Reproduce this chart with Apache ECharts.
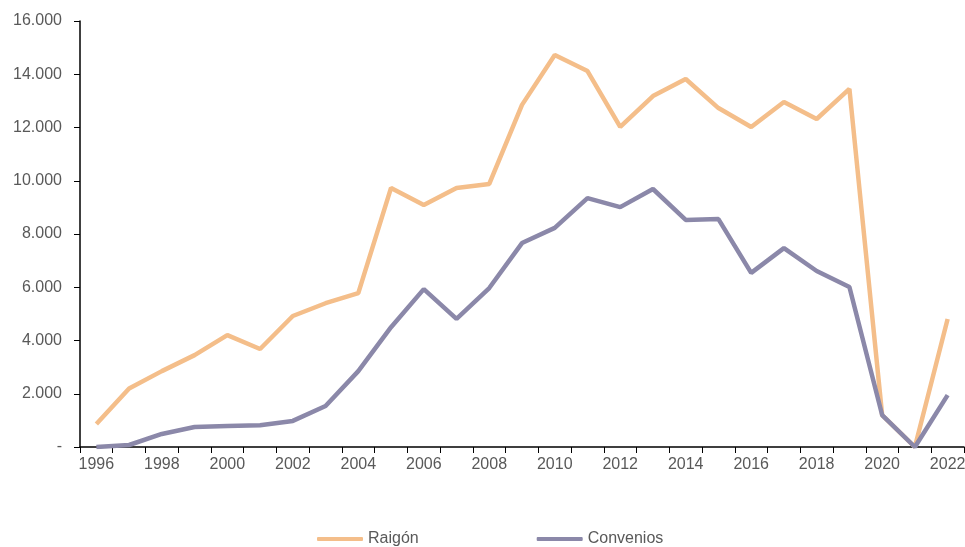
<!DOCTYPE html>
<html>
<head>
<meta charset="utf-8">
<script src="https://cdn.jsdelivr.net/npm/echarts@6/dist/echarts.min.js"></script>
<style>
  html, body { margin: 0; padding: 0; background: #fff; }
  #chart { width: 965px; height: 547px; }
</style>
</head>
<body>
<div id="chart"></div>
<script>
var years = ['1996', '1997', '1998', '1999', '2000', '2001', '2002', '2003', '2004', '2005',
  '2006', '2007', '2008', '2009', '2010', '2011', '2012', '2013', '2014', '2015',
  '2016', '2017', '2018', '2019', '2020', '2021', '2022'];

var raigon = [860, 2200, 2850, 3450, 4200, 3680, 4920, 5400, 5780, 9730,
  9090, 9730, 9880, 12850, 14720, 14120, 12020, 13180, 13820, 12730,
  12020, 12960, 12320, 13450, 1200, 0, 4810];

var convenios = [0, 75, 490, 750, 790, 820, 980, 1540, 2850, 4500,
  5930, 4810, 5970, 7660, 8230, 9350, 9010, 9690, 8530, 8560,
  6540, 7470, 6610, 6010, 1200, 0, 1950];

var myChart = echarts.init(document.getElementById('chart'));

var labelStyle = { color: '#595959', fontFamily: 'Liberation Sans, Arial', fontSize: 16 };

option = {
    animation: false,
    grid: { left: 80, right: 1, top: 21, bottom: 100, outerBoundsMode: 'none' },
    legend: {
        bottom: 0,
        left: 317,
        padding: 0,
        itemWidth: 46,
        itemHeight: 4,
        itemGap: 118,
        icon: 'roundRect',
        textStyle: labelStyle,
        data: ['Raigón', 'Convenios']
    },
    xAxis: {
        type: 'category',
        data: years,
        boundaryGap: true,
        axisLine: { lineStyle: { color: '#000', width: 1.5 } },
        axisTick: { show: true, interval: 0, length: 6, lineStyle: { color: '#000' } },
        axisLabel: Object.assign({ interval: 1, margin: 10 }, labelStyle)
    },
    yAxis: {
        type: 'value',
        min: 0,
        max: 16000,
        interval: 2000,
        splitLine: { show: false },
        axisLine: { show: true, lineStyle: { color: '#000', width: 1.5 } },
        axisTick: { show: true, length: 6, lineStyle: { color: '#000' } },
        axisLabel: Object.assign({
            margin: 18,
            formatter: function (v) {
                return v === 0 ? '-' : v.toLocaleString('de-DE');
            }
        }, labelStyle)
    },
    series: [{
        name: 'Raigón',
        type: 'line',
        data: raigon,
        symbol: 'none',
        lineStyle: { color: '#F4BE8A', width: 4.5 },
        itemStyle: { color: '#F4BE8A' }
    }, {
        name: 'Convenios',
        type: 'line',
        data: convenios,
        symbol: 'none',
        lineStyle: { color: '#8B88A9', width: 4.5 },
        itemStyle: { color: '#8B88A9' }
    }]
};
myChart.setOption(option);
</script>
</body>
</html>
